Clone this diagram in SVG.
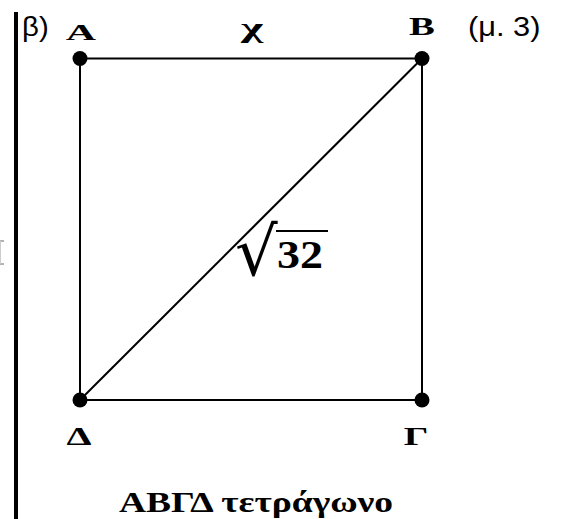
<svg xmlns="http://www.w3.org/2000/svg" width="561" height="519" viewBox="0 0 561 519">
<style>
.edge{stroke:#000;stroke-width:2;fill:none}
.dot{fill:#000}
.lbl{font-family:"Liberation Serif","DejaVu Serif",serif;font-weight:bold;fill:#000;text-anchor:middle}
.sans{font-family:"Liberation Sans",Arial,sans-serif;fill:#000}
.frag{stroke:#999;stroke-width:1.5}
</style>
<rect width="561" height="519" fill="#fff"/>
<rect x="14" y="12" width="4" height="507" fill="#000"/>
<g id="edgeMark">
<line class="frag" x1="0" y1="241" x2="4" y2="241"/>
<line class="frag" x1="0" y1="264" x2="4" y2="264"/>
<line x1="0.5" y1="241" x2="0.5" y2="264" stroke="#ccc" stroke-width="1"/>
</g>
<text class="sans" font-size="28" transform="translate(22,36) scale(1.05,1)">β)</text>
<text class="sans" font-size="28" transform="translate(468,36) scale(1.1,1)">(μ. 3)</text>
<g id="connectors">
<line class="edge" x1="80" y1="58.5" x2="422" y2="58.5"/>
<line class="edge" x1="422" y1="58.5" x2="422" y2="400"/>
<line class="edge" x1="422" y1="400" x2="80" y2="400"/>
<line class="edge" x1="80" y1="400" x2="80" y2="58.5"/>
<line class="edge" x1="80" y1="400" x2="422" y2="58.5"/>
</g>
<g id="nodeA"><circle class="dot" cx="80" cy="58.5" r="7.5"/><text class="lbl" font-size="24" transform="translate(81,40) scale(1.75,1)">Α</text></g>
<g id="nodeB"><circle class="dot" cx="422" cy="58.5" r="7.5"/><text class="lbl" font-size="25" transform="translate(422,35) scale(1.55,1)">Β</text></g>
<g id="nodeG"><circle class="dot" cx="422" cy="400" r="7.5"/><text class="lbl" font-size="25" transform="translate(416,445) scale(1.55,1)">Γ</text></g>
<g id="nodeD"><circle class="dot" cx="80" cy="400" r="7.5"/><text class="lbl" font-size="25" transform="translate(79,445) scale(1.6,1)">Δ</text></g>
<g id="labelX"><text class="lbl" font-size="28" transform="translate(252,37) scale(1.7,1)">χ</text></g>
<g id="labelDiag">
<text font-family="DejaVu Serif, serif" font-size="67" transform="translate(235,275)">√</text>
<line x1="276" y1="231" x2="328" y2="231" stroke="#000" stroke-width="2.2"/>
<text class="lbl" font-size="40" transform="translate(300,268) scale(1.15,1)">32</text>
</g>
<g id="title"><text class="lbl" font-size="30" transform="translate(256,512) scale(1.25,1)">ΑΒΓΔ τετράγωνο</text></g>
</svg>
